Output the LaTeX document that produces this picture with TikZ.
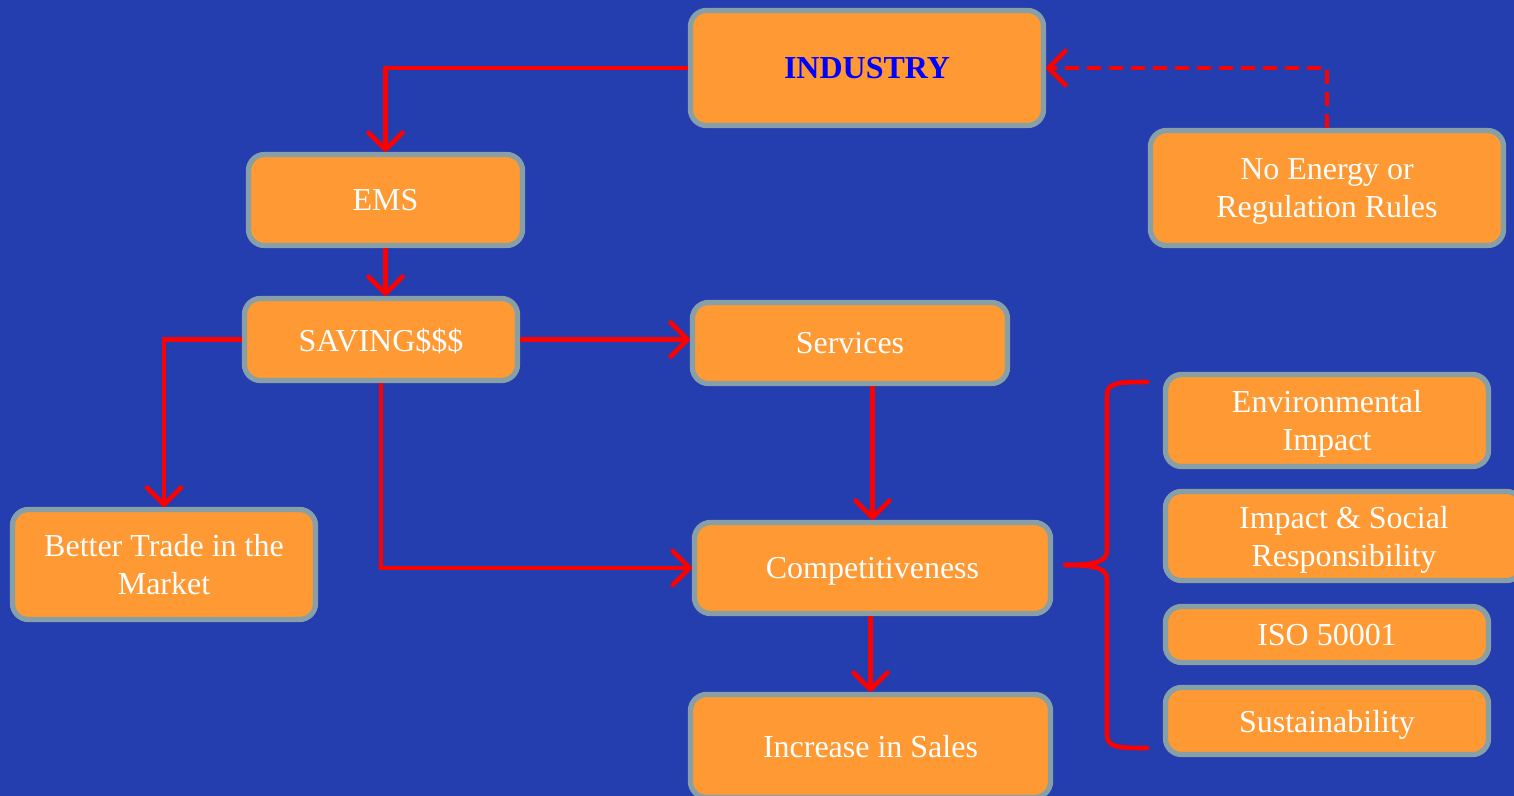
\documentclass[tikz,border=0pt]{standalone}
\usepackage{fontspec}
\setmainfont{Liberation Serif}
\usetikzlibrary{arrows.meta,positioning,calc}
\definecolor{slidebg}{RGB}{36,61,175}
\definecolor{boxorange}{RGB}{255,153,51}
\definecolor{boxrim}{RGB}{135,160,168}
\definecolor{flowred}{RGB}{255,0,0}

\begin{document}
\begin{tikzpicture}[
    box/.style={draw=boxrim, fill=boxorange, line width=1.5pt, rounded corners=0.16cm,
        text=white, font=\fontsize{9.1}{10.8}\selectfont, align=center, inner sep=0pt,
        text depth=0pt},
    flow/.style={draw=flowred, line width=1.3pt,
        -{Straight Barb[length=1.7mm,width=3.4mm,round]}},
    brace/.style={draw=flowred, line width=1.3pt, line cap=round},
]
    % Background
    \fill[slidebg] (0,0) rectangle (15.14,-7.96);
    \useasboundingbox (0,0) rectangle (15.14,-7.96);

    % Main flow
    \node[box, minimum width=3.53cm, minimum height=1.15cm] (industry) at (8.67,-0.68)
        {\textbf{\textcolor{blue}{INDUSTRY}}};
    \node[box, minimum width=2.74cm, minimum height=0.91cm] (ems) at (3.855,-2.00) {EMS};
    \node[box, minimum width=2.73cm, minimum height=0.82cm] (saving) at (3.81,-3.395) {SAVING\$\$\$};
    \node[box, minimum width=3.15cm, minimum height=0.81cm] (services) at (8.50,-3.43) {Services};
    \node[box, minimum width=3.53cm, minimum height=1.15cm] (noenergy) at (13.27,-1.88)
        {No Energy or\\Regulation Rules};
    \node[box, minimum width=3.03cm, minimum height=1.10cm] (trade) at (1.64,-5.645)
        {Better Trade in the\\Market};
    \node[box, minimum width=3.56cm, minimum height=0.91cm] (compet) at (8.725,-5.68) {Competitiveness};
    \node[box, minimum width=3.60cm, minimum height=1.03cm] (sales) at (8.705,-7.46) {Increase in Sales};

    % Outcomes of competitiveness
    \node[box, minimum width=3.23cm, minimum height=0.92cm] (env) at (13.27,-4.205)
        {Environmental\\Impact};
    \node[box, minimum width=3.57cm, minimum height=0.89cm] (social) at (13.44,-5.36)
        {Impact \& Social\\Responsibility};
    \node[box, minimum width=3.23cm, minimum height=0.56cm] (iso) at (13.27,-6.345) {ISO 50001};
    \node[box, minimum width=3.23cm, minimum height=0.67cm] (sust) at (13.27,-7.21) {Sustainability};

    % Arrows
    \draw[flow] (industry.west) -| (ems.north);
    \draw[flow] (ems.south) -- (ems.south |- saving.north);
    \draw[flow] (saving.west) -| (trade.north);
    \draw[flow] (saving.east) -- (saving.east -| services.west);
    \draw[flow] (saving.south) |- (compet.west);
    \draw[flow] (compet.north |- services.south) -- (compet.north);
    \draw[flow] (sales.north |- compet.south) -- (sales.north);
    \draw[flow, dash pattern=on 1.4mm off 0.8mm] (noenergy.north) |- (industry.east);

    % Brace
    \coordinate (tip) at ($(compet.east)+(0.12,0.03)$);
    \draw[brace] (tip) .. controls (10.95,-5.65) and (11.07,-5.62) .. (11.07,-5.5)
        -- (11.07,-3.95) .. controls (11.07,-3.82) and (11.2,-3.82) .. (11.47,-3.82);
    \draw[brace] (tip) .. controls (10.95,-5.65) and (11.07,-5.68) .. (11.07,-5.8)
        -- (11.07,-7.35) .. controls (11.07,-7.48) and (11.2,-7.48) .. (11.47,-7.48);
\end{tikzpicture}
\end{document}
